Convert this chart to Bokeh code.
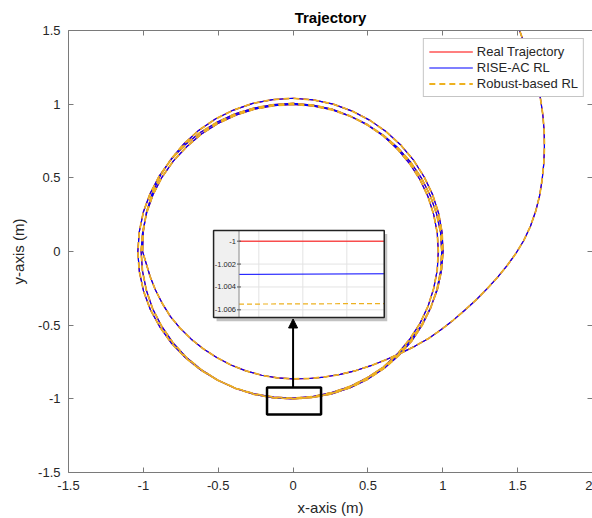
from bokeh.plotting import figure
from bokeh.models import Range1d, LinearAxis, FixedTicker, Arrow, NormalHead
from bokeh.embed import file_html
from bokeh.resources import INLINE
from bokeh.core.properties import value

# ---------------- data ----------------
# entry leg, then three loops around the unit circle (clockwise)
real_x = [1.47, 1.513, 1.555, 1.595, 1.628, 1.652, 1.668, 1.677, 1.679, 1.675, 1.664,
          1.647, 1.621, 1.585, 1.54, 1.487, 1.428, 1.364, 1.295, 1.222, 1.145, 1.07,
          0.99, 0.905, 0.815, 0.72, 0.62, 0.52, 0.42, 0.315, 0.21, 0.105, 0.0,
          -0.105, -0.21, -0.315, -0.415, -0.51, -0.60, -0.68, -0.755, -0.82, -0.875,
          -0.92, -0.955, -0.98,
          # loop 1
          -1.005, -1.001, -0.980, -0.942, -0.888, -0.816, -0.730, -0.631, -0.519, -0.398,
          -0.269, -0.136, 0.0, 0.135, 0.268, 0.395, 0.514, 0.623, 0.721, 0.806, 0.876,
          0.932, 0.972, 0.995, 1.002, 0.991, 0.964, 0.919, 0.860, 0.786, 0.700, 0.603,
          0.495, 0.379, 0.257, 0.130, 0.0,
          # loop 2
          -0.130, -0.259, -0.384, -0.504, -0.617, -0.720, -0.812, -0.889, -0.953, -0.999,
          -1.027, -1.037, -1.027, -1.000, -0.954, -0.892, -0.814, -0.723, -0.620, -0.507,
          -0.387, -0.261, -0.131, 0.0, 0.131, 0.259, 0.381, 0.496, 0.602, 0.696, 0.778,
          0.847, 0.901, 0.939, 0.963, 0.970, 0.963, 0.939, 0.901, 0.847, 0.778, 0.696,
          0.602, 0.496, 0.381, 0.258, 0.130, 0.0,
          # loop 3
          -0.131, -0.260, -0.385, -0.504, -0.615, -0.716, -0.804, -0.878, -0.938, -0.980,
          -1.006, -1.015, -1.005, -0.978, -0.935, -0.875, -0.800, -0.711, -0.612, -0.502,
          -0.383, -0.259, -0.130, 0.0, 0.130, 0.258, 0.381, 0.497, 0.605, 0.702, 0.787,
          0.859, 0.916, 0.958, 0.985, 0.993, 0.986, 0.961, 0.920, 0.863, 0.792, 0.706,
          0.609, 0.5, 0.383, 0.259, 0.131, 0.0]
real_y = [1.62, 1.50, 1.38, 1.26, 1.15, 1.04, 0.93, 0.82, 0.71, 0.60, 0.49,
          0.38, 0.275, 0.17, 0.073, -0.015, -0.098, -0.177, -0.254, -0.329, -0.40, -0.466,
          -0.53, -0.59, -0.642, -0.69, -0.735, -0.775, -0.808, -0.834, -0.852, -0.862, -0.865,
          -0.858, -0.84, -0.81, -0.77, -0.72, -0.66, -0.595, -0.52, -0.44, -0.35,
          -0.26, -0.17, -0.085,
          # loop 1
          0.0, 0.132, 0.263, 0.390, 0.513, 0.626, 0.730, 0.822, 0.899, 0.960,
          1.005, 1.031, 1.040, 1.029, 1.000, 0.953, 0.890, 0.812, 0.721, 0.618, 0.506,
          0.386, 0.260, 0.131, 0.0, -0.131, -0.258, -0.381, -0.497, -0.603, -0.700, -0.785,
          -0.857, -0.916, -0.958, -0.985, -0.995,
          # loop 2
          -0.989, -0.966, -0.928, -0.873, -0.804, -0.720, -0.623, -0.514, -0.395, -0.268,
          -0.135, 0.0, 0.135, 0.268, 0.395, 0.515, 0.625, 0.723, 0.808, 0.878,
          0.934, 0.974, 0.997, 1.005, 0.994, 0.966, 0.920, 0.859, 0.785, 0.696, 0.597,
          0.489, 0.373, 0.252, 0.127, 0.0, -0.127, -0.252, -0.373, -0.489, -0.597, -0.696,
          -0.785, -0.859, -0.919, -0.963, -0.990, -1.0,
          # loop 3
          -0.993, -0.970, -0.929, -0.873, -0.801, -0.716, -0.617, -0.507, -0.388, -0.263,
          -0.132, 0.0, 0.132, 0.262, 0.387, 0.505, 0.614, 0.711, 0.797, 0.869,
          0.925, 0.966, 0.990, 0.998, 0.988, 0.962, 0.919, 0.861, 0.788, 0.702, 0.604,
          0.496, 0.380, 0.257, 0.130, 0.0, -0.130, -0.258, -0.381, -0.499, -0.608, -0.706,
          -0.793, -0.866, -0.924, -0.966, -0.991, -1.0]
# at the scale of the main chart the three trajectories coincide
rise_x, rise_y = list(real_x), list(real_y)
robust_x, robust_y = list(real_x), list(real_y)

x_ticks = [-1.5, -1.0, -0.5, 0.0, 0.5, 1.0, 1.5, 2.0]
x_tick_labels = ["-1.5", "-1", "-0.5", "0", "0.5", "1", "1.5", "2"]
y_ticks = [-1.5, -1.0, -0.5, 0.0, 0.5, 1.0, 1.5]
y_tick_labels = ["-1.5", "-1", "-0.5", "0", "0.5", "1", "1.5"]

# zoomed inset data
inset_x = [-0.0145, 0.0185]
inset_real = [-1.0000, -1.0000]
inset_rise = [-1.0029, -1.00285]
inset_robust = [-1.0055, -1.00545]
inset_yticks = [-1.000, -1.002, -1.004, -1.006]
inset_ytick_labels = ["-1", "-1.002", "-1.004", "-1.006"]
inset_xgrid = [-0.01, 0.0, 0.01]
inset_yrange = [-1.00667, -0.99906]

# ---------------- layout constants ----------------
ZOOM_BOX = dict(left=-0.174, right=0.187, top=-0.923, bottom=-1.107)
INSET_OUTER = dict(left=-0.531, right=0.609, top=0.143, bottom=-0.448)
INSET_PLOT_LEFT = -0.361

FONT = "Liberation Sans"
AX_COLOR = "#7a7a7a"
TXT_COLOR = "#262626"

p = figure(width=592, height=518, x_range=Range1d(-1.5, 2.0), y_range=Range1d(-1.5, 1.5),
           output_backend="svg", toolbar_location=None,
           min_border_left=68, min_border_right=0, min_border_top=30, min_border_bottom=46)
p.background_fill_color = "white"
p.border_fill_color = "white"
p.outline_line_color = None
p.grid.visible = False

p.title.text = "Trajectory"
p.title.align = "center"
p.title.text_font = FONT
p.title.text_font_size = "15px"
p.title.text_font_style = "bold"
p.title.text_color = "#000000"

xax = p.below[0]
yax = p.left[0]
xax.axis_label = "x-axis (m)"
yax.axis_label = "y-axis (m)"
xax.ticker = FixedTicker(ticks=x_ticks)
yax.ticker = FixedTicker(ticks=y_ticks)
xax.major_label_overrides = dict(zip(x_ticks, x_tick_labels))
yax.major_label_overrides = dict(zip(y_ticks, y_tick_labels))

top_ax = LinearAxis(ticker=FixedTicker(ticks=x_ticks))
right_ax = LinearAxis(ticker=FixedTicker(ticks=y_ticks))
p.add_layout(top_ax, "above")
p.add_layout(right_ax, "right")

for ax in (xax, yax, top_ax, right_ax):
    ax.axis_line_color = AX_COLOR
    ax.major_tick_line_color = AX_COLOR
    ax.major_tick_in = 5
    ax.major_tick_out = 0
    ax.minor_tick_line_color = None
    ax.major_label_text_font = FONT
    ax.major_label_text_color = TXT_COLOR
    ax.axis_label_text_font = FONT
    ax.axis_label_text_color = TXT_COLOR
    ax.axis_label_text_font_style = "normal"
for ax in (top_ax, right_ax):
    ax.major_label_text_font_size = "0px"
    ax.major_label_text_color = None
    ax.major_label_standoff = 0

for ax in (xax, yax):
    ax.major_label_text_font_size = "13px"
    ax.axis_label_text_font_size = "15px"
xax.major_label_standoff = 8
yax.major_label_standoff = 8
xax.axis_label_standoff = 6
yax.axis_label_standoff = 8

# ---------------- main curves ----------------
p.line(real_x, real_y, color="#ff0000", line_width=1.2, legend_label="Real Trajectory")
p.line(rise_x, rise_y, color="#0000ff", line_width=1.2, legend_label="RISE-AC RL")
p.line(robust_x, robust_y, color="#edb120", line_width=1.8, line_dash="6 4",
       legend_label="Robust-based RL")

# ---------------- zoom box + arrow ----------------
p.quad(fill_color=None, line_color="black", line_width=2.5, **{k: [v] for k, v in ZOOM_BOX.items()})
p.add_layout(Arrow(end=NormalHead(size=9, fill_color="black", line_color="black"),
                   x_start=0.0, y_start=ZOOM_BOX["top"], x_end=0.0,
                   y_end=INSET_OUTER["bottom"] - 0.01, line_width=2, line_color="black"))

# ---------------- inset ----------------
p.quad(left=[INSET_OUTER["left"] + 0.02], right=[INSET_OUTER["right"] + 0.02],
       top=[INSET_OUTER["top"] - 0.025], bottom=[INSET_OUTER["bottom"] - 0.025],
       fill_color="#9a9a9a", fill_alpha=0.6, line_color=None)
p.quad(left=[INSET_OUTER["left"]], right=[INSET_OUTER["right"]],
       top=[INSET_OUTER["top"]], bottom=[INSET_OUTER["bottom"]],
       fill_color="white", line_color=None)
p.quad(left=[INSET_OUTER["left"]], right=[INSET_PLOT_LEFT],
       top=[INSET_OUTER["top"]], bottom=[INSET_OUTER["bottom"]],
       fill_color="#f0f0f0", line_color=None)

sub = p.subplot(x_source=Range1d(inset_x[0], inset_x[1]),
                y_source=Range1d(inset_yrange[0], inset_yrange[1]),
                x_target=Range1d(INSET_PLOT_LEFT, INSET_OUTER["right"]),
                y_target=Range1d(INSET_OUTER["bottom"], INSET_OUTER["top"]))
sub.segment(x0=[inset_x[0]] * len(inset_yticks), x1=[inset_x[1]] * len(inset_yticks),
            y0=inset_yticks, y1=inset_yticks, line_color="#e3e3e3", line_width=1)
sub.segment(x0=inset_xgrid, x1=inset_xgrid, y0=[inset_yrange[0]] * len(inset_xgrid),
            y1=[inset_yrange[1]] * len(inset_xgrid), line_color="#e3e3e3", line_width=1)
sub.line(inset_x, inset_real, color="#ff0000", line_width=1)
sub.line(inset_x, inset_rise, color="#0000ff", line_width=1)
sub.line(inset_x, inset_robust, color="#edb120", line_width=1.2, line_dash="5 3")
sub.segment(x0=[inset_x[0]], x1=[inset_x[0]], y0=[inset_yrange[0]], y1=[inset_yrange[1]],
            line_color="#8a8a8a", line_width=1)
sub.scatter(x=[inset_x[0]] * len(inset_yticks), y=inset_yticks, marker="dash", size=4,
            line_color="#555555")
sub.text(x=[inset_x[0]] * len(inset_yticks), y=inset_yticks, text=inset_ytick_labels,
         text_align="right", text_baseline="middle", x_offset=-3,
         text_font=value(FONT), text_font_size="7.5px", text_color=TXT_COLOR)

p.quad(left=[INSET_OUTER["left"]], right=[INSET_OUTER["right"]],
       top=[INSET_OUTER["top"]], bottom=[INSET_OUTER["bottom"]],
       fill_color=None, line_color="#222222", line_width=1.5)

# ---------------- legend ----------------
lg = p.legend[0]
lg.location = "top_right"
lg.margin = 8
lg.padding = 5
lg.spacing = 1
lg.glyph_height = 15
lg.label_height = 15
lg.glyph_width = 44
lg.label_standoff = 4
lg.label_text_font = FONT
lg.label_text_font_size = "13px"
lg.label_text_color = TXT_COLOR
lg.border_line_color = "#8c8c8c"
lg.border_line_width = 1
lg.background_fill_color = "white"
lg.background_fill_alpha = 1.0

open("out.html", "w").write(file_html(p, INLINE))
